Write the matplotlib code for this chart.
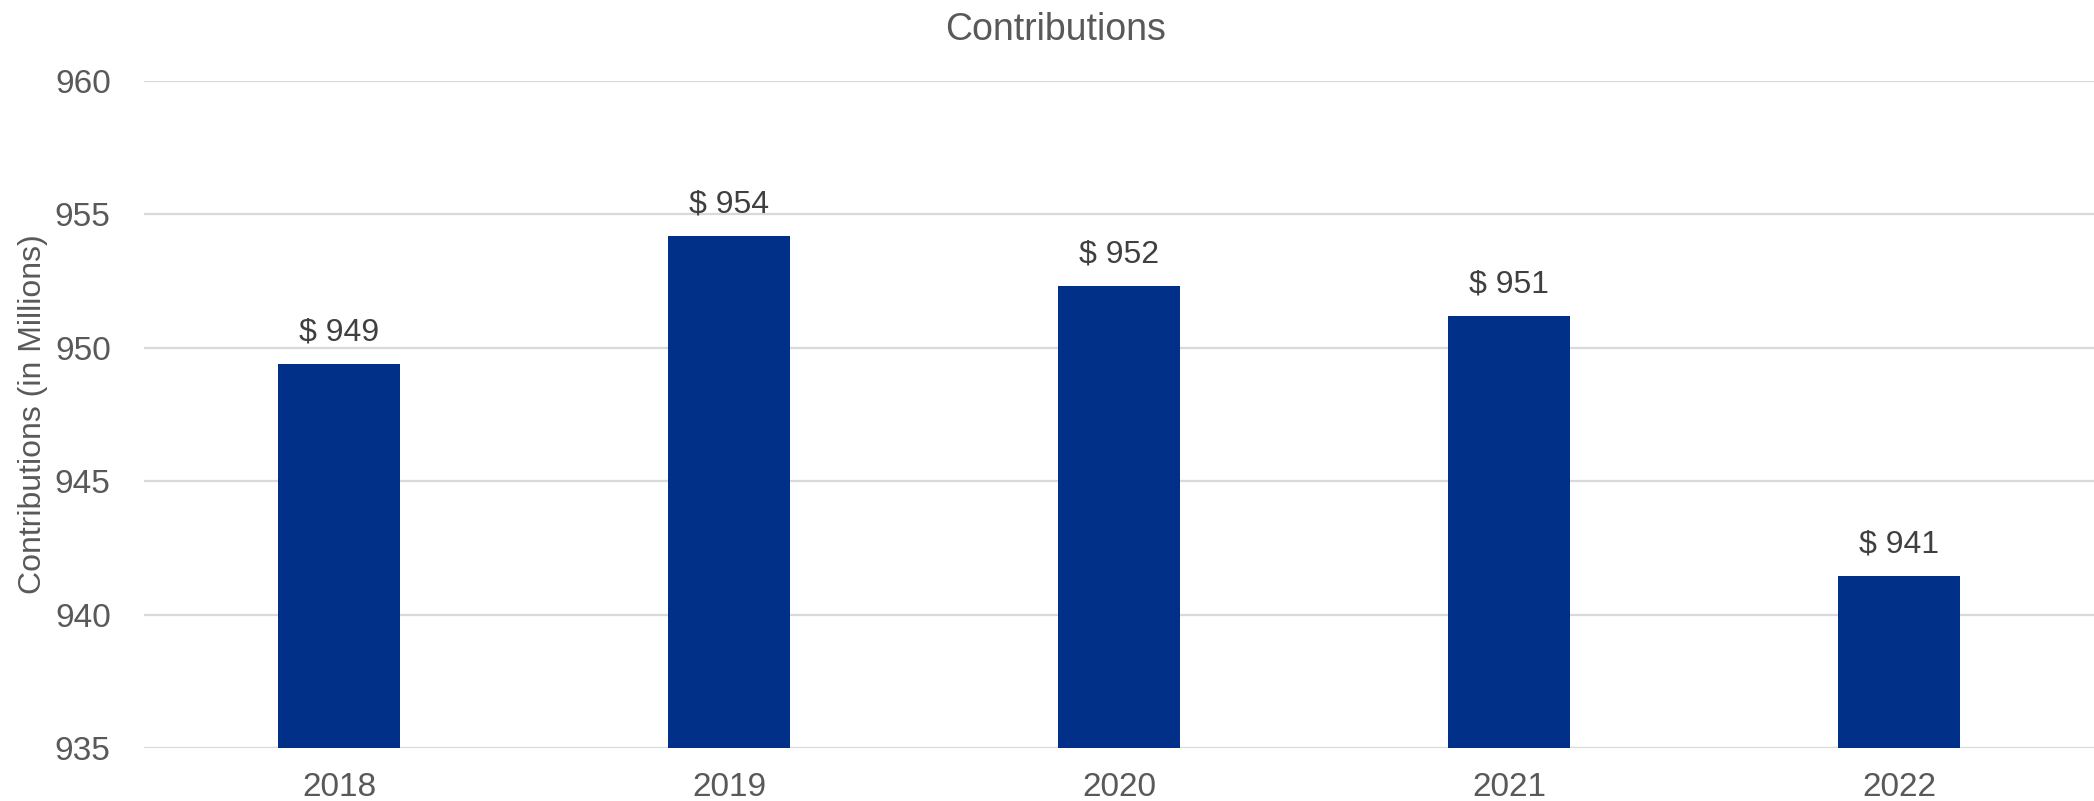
import matplotlib
matplotlib.use("Agg")
import matplotlib.pyplot as plt

plt.rcParams['font.family'] = ['Liberation Sans', 'DejaVu Sans']

years = ["2018", "2019", "2020", "2021", "2022"]
contributions = [949.4, 954.2, 952.3, 951.2, 941.45]
value_labels = ["$ 949", "$ 954", "$ 952", "$ 951", "$ 941"]
y_ticks = [935, 940, 945, 950, 955, 960]

fig = plt.figure(figsize=(20.94, 8.01), dpi=100)
ax = fig.add_axes([0.0688, 0.0662, 0.9312, 0.8327])

x = range(len(years))
bars = ax.bar(x, contributions, width=0.315, color="#003087", zorder=3)

for b, txt in zip(bars, value_labels):
    ax.annotate(txt, (b.get_x() + b.get_width() / 2, b.get_height()),
                xytext=(0, 12), textcoords="offset points",
                ha="center", va="bottom", fontsize=23, color="#404040")

ax.set_xlim(-0.5, len(years) - 0.5)
ax.set_ylim(935, 960)
ax.set_yticks(y_ticks)
ax.set_xticks(list(x))
ax.set_xticklabels(years)
ax.tick_params(axis="both", length=0, labelsize=24, labelcolor="#595959")
ax.tick_params(axis="y", pad=24)
ax.tick_params(axis="x", pad=17)

ax.grid(axis="y", color="#d9d9d9", linewidth=1.6, zorder=0)
for s in ax.spines.values():
    s.set_visible(False)

ax.set_ylabel("Contributions (in Millions)", fontsize=23, color="#595959")
ax.yaxis.set_label_coords(-0.0495, 0.5)
fig.text(0.504, 0.963, "Contributions", ha="center", va="center",
         fontsize=27, color="#595959")

fig.savefig("out.png", dpi=100, facecolor="white")
